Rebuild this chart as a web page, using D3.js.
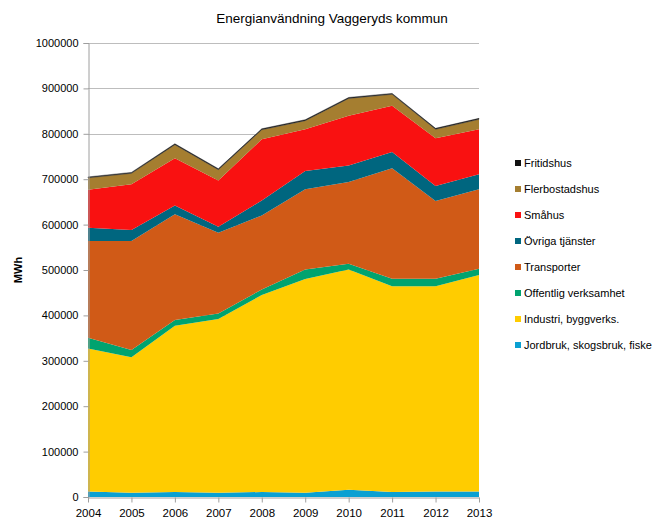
<!DOCTYPE html>
<html>
<head>
<meta charset="utf-8">
<script src="https://cdn.jsdelivr.net/npm/d3@7"></script>
<style>
  body { margin: 0; background: #fff; }
  svg { font-family: "Liberation Sans", Arial, sans-serif; }
</style>
</head>
<body>
<svg id="chart" width="663" height="519"></svg>
<script>
// years on the x axis
var years = [2004, 2005, 2006, 2007, 2008, 2009, 2010, 2011, 2012, 2013];

// series values, MWh
var jordbruk    = [12000, 9500, 11000, 9500, 11000, 9500, 16000, 11000, 12000, 12000];
var industri    = [315000, 298500, 366000, 382500, 434000, 470500, 485000, 453000, 452000, 477000];
var offentlig   = [24000, 16000, 13000, 12000, 12000, 21000, 13000, 17000, 17000, 14000];
var transporter = [213000, 240000, 233000, 178000, 163000, 177000, 180000, 243000, 171000, 175000];
var ovriga      = [29000, 24000, 19000, 13000, 33000, 40000, 36000, 36000, 33000, 33000];
var smahus      = [84000, 101000, 104000, 102000, 135000, 92000, 110000, 102000, 105000, 99000];
var flerbostad  = [26000, 24000, 30000, 24000, 21000, 19000, 38000, 25000, 20000, 22000];
var fritidshus  = [2000, 2000, 2000, 2000, 2000, 2000, 2000, 2000, 2000, 2000];

var seriesNames = ['Jordbruk, skogsbruk, fiske', 'Industri, byggverks.', 'Offentlig verksamhet',
    'Transporter', 'Övriga tjänster', 'Småhus', 'Flerbostadshus', 'Fritidshus'];
var seriesValues = [jordbruk, industri, offentlig, transporter, ovriga, smahus, flerbostad, fritidshus];
var seriesColors = ['#0aa0d2', '#ffcc00', '#00a36f', '#d05a17', '#00667f', '#f91111', '#a57e30', '#111111'];

var yTicks = [0, 100000, 200000, 300000, 400000, 500000, 600000, 700000, 800000, 900000, 1000000];

// table for d3.stack
var rows = years.map(function (yr, i) {
    var r = { year: yr };
    seriesNames.forEach(function (n, k) { r[n] = seriesValues[k][i]; });
    return r;
});

var svg = d3.select('#chart');
var plotLeft = 88, plotRight = 479, plotTop = 43, plotBottom = 497;

var x = d3.scaleLinear().domain([2004, 2013]).range([plotLeft, plotRight]);
var y = d3.scaleLinear().domain([0, 1000000]).range([plotBottom, plotTop]);

// title
svg.append('text')
    .attr('x', 332)
    .attr('y', 23)
    .attr('text-anchor', 'middle')
    .style('font-size', '13.5px')
    .text('Energianvändning Vaggeryds kommun');

// gridlines
svg.append('g')
    .selectAll('line')
    .data(yTicks.slice(1))
    .enter().append('line')
    .attr('x1', plotLeft).attr('x2', plotRight)
    .attr('y1', function (d) { return Math.round(y(d)) + 0.5; })
    .attr('y2', function (d) { return Math.round(y(d)) + 0.5; })
    .attr('stroke', '#bdbdbd');

// stacked areas
var stack = d3.stack().keys(seriesNames);
var layers = stack(rows);

var area = d3.area()
    .x(function (d) { return x(d.data.year); })
    .y0(function (d) { return y(d[0]); })
    .y1(function (d) { return y(d[1]); });

svg.append('g')
    .selectAll('path')
    .data(layers)
    .enter().append('path')
    .attr('d', area)
    .attr('fill', function (d, i) { return seriesColors[i]; })
    .attr('stroke', function (d, i) { return i === 7 ? '#333' : 'none'; })
    .attr('stroke-width', 0.5);

// y axis
var yAxis = d3.axisLeft(y)
    .tickValues(yTicks)
    .tickFormat(d3.format('d'))
    .tickSize(5)
    .tickPadding(5);

var gy = svg.append('g')
    .attr('transform', 'translate(' + (plotLeft + 0.5) + ',0)')
    .call(yAxis);
gy.select('.domain').attr('stroke', '#9e9e9e');
gy.selectAll('.tick line').attr('stroke', '#9e9e9e');
gy.selectAll('.tick text')
    .style('font-size', '11px')
    .attr('fill', '#000')
    .style('font-family', '"Liberation Sans", Arial, sans-serif');

// x axis
var xAxis = d3.axisBottom(x)
    .tickValues(years)
    .tickFormat(d3.format('d'))
    .tickSize(5)
    .tickSizeOuter(0)
    .tickPadding(6);

var gx = svg.append('g')
    .attr('transform', 'translate(0,' + (plotBottom + 0.5) + ')')
    .call(xAxis);
gx.select('.domain').attr('stroke', '#9e9e9e');
gx.selectAll('.tick line').attr('stroke', '#9e9e9e');
gx.selectAll('.tick text')
    .style('font-size', '11.5px')
    .attr('fill', '#000')
    .style('font-family', '"Liberation Sans", Arial, sans-serif');

// y axis title
svg.append('text')
    .attr('transform', 'translate(22,270) rotate(-90)')
    .attr('text-anchor', 'middle')
    .style('font-size', '11px')
    .style('font-weight', 'bold')
    .text('MWh');

// legend, top entry first
var legend = svg.append('g')
    .selectAll('g')
    .data(seriesNames.slice().reverse())
    .enter().append('g')
    .attr('transform', function (d, i) { return 'translate(515,' + (163 + i * 26) + ')'; });

legend.append('rect')
    .attr('x', 0).attr('y', -3)
    .attr('width', 6).attr('height', 6)
    .attr('fill', function (d) { return seriesColors[seriesNames.indexOf(d)]; });

legend.append('text')
    .attr('x', 9)
    .attr('y', 4)
    .style('font-size', '11px')
    .text(function (d) { return d; });
</script>
</body>
</html>
